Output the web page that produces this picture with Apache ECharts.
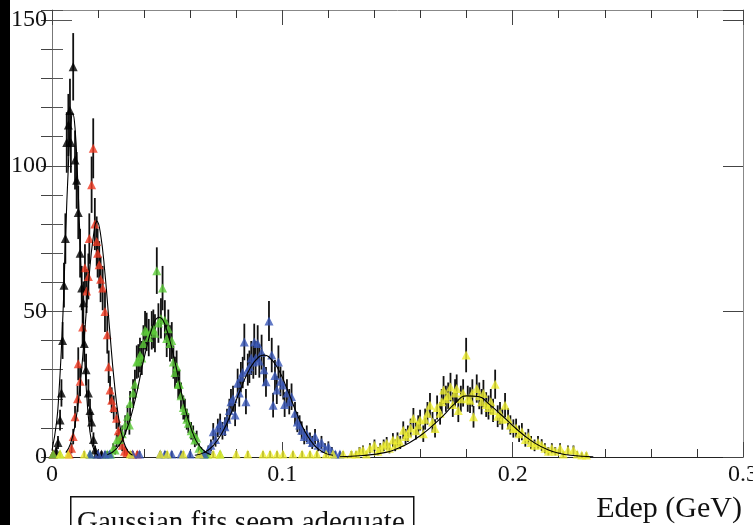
<!DOCTYPE html>
<html><head><meta charset="utf-8">
<script src="https://cdn.jsdelivr.net/npm/echarts@6/dist/echarts.min.js"></script>
<style>html,body{margin:0;padding:0;background:#fff;overflow:hidden}#c{width:753px;height:525px}</style>
</head><body><div id="c"></div>
<script>
// ---- tick labels ----
const xTickVals = [0, 0.1, 0.2, 0.3];
const xTickLabels = ['0', '0.1', '0.2', '0.3'];
const yTickVals = [0, 50, 100, 150];
const yTickLabels = ['0', '50', '100', '150'];
const xTitle = 'Edep (GeV)';
const noteText = 'Gaussian fits seem adequate';

// ---- histogram points [Edep, counts] ----
const blackPts = [
 [0.0005,1],[0.0018,2],[0.0026,5],[0.0035,12.7],[0.0041,22],[0.0046,40],[0.0052,59],[0.0058,75],
 [0.0064,108],[0.0071,114],[0.0078,119],[0.0082,108],[0.0092,134],[0.0100,102],[0.0107,95],
 [0.0114,84],[0.0122,70],[0.0129,58],[0.0136,53],[0.0140,39],[0.0148,30],[0.0158,22],[0.0165,16],
 [0.0172,12],[0.0180,6],[0.0187,2.4],[0.0195,1],[0.0215,1]
];
const redPts = [
 [0.0005,1],[0.0075,1],[0.0085,3],[0.0092,7],[0.0100,13.8],[0.0111,20],[0.0114,32],[0.0122,26],
 [0.0133,44.6],[0.0143,65],[0.0150,57],[0.0158,62],[0.0162,75],[0.0172,93.5],[0.0179,106],
 [0.0186,80],[0.0194,74],[0.0198,70],[0.0205,66],[0.0211,61],[0.0220,58],[0.0230,50],[0.0240,42],
 [0.0246,31],[0.0252,23],[0.0259,19.5],[0.0268,17],[0.0280,13.3],[0.0288,9],[0.0295,7],
 [0.0305,4],[0.0315,2],[0.0325,1.5],[0.0350,1],[0.0370,1]
];
const greenPts = [
 [0.0005,1],[0.0035,1],[0.0165,1],[0.0240,1],[0.0255,1],[0.0266,3],[0.0274,2.4],[0.0281,5.8],
 [0.0292,6],[0.0305,8],[0.0318,11],[0.0328,14],[0.0336,11],[0.0339,18.4],[0.0352,22],[0.0360,25],
 [0.0368,32.6],[0.0375,33],[0.0382,35],[0.0390,34],[0.0397,39],[0.0404,43.5],[0.0411,43],
 [0.0420,41],[0.0433,43.5],[0.0440,44],[0.0447,42.5],[0.0455,64],[0.0462,46],[0.0473,47.6],
 [0.0480,58],[0.0490,47],[0.0498,40.7],[0.0505,44],[0.0512,39],[0.0520,40],[0.0527,32.6],
 [0.0534,29],[0.0541,31],[0.0548,25],[0.0553,25],[0.0560,21],[0.0570,17],[0.0577,16],[0.0585,13],
 [0.0592,11.6],[0.0604,9],[0.0613,8],[0.0620,5.8],[0.0628,6.5],[0.0638,3],[0.0648,2],[0.0660,1],
 [0.0675,1],[0.0730,1]
];
const bluePts = [
 [0.0165,1],[0.0200,1],[0.0230,1],[0.0250,1],[0.0350,1],[0.0380,1],[0.0470,1],[0.0490,1],
 [0.0520,1],[0.0560,1],[0.0600,1],[0.0640,1],[0.0660,1],[0.0679,2.4],[0.0690,4],[0.0700,8.7],
 [0.0710,6],[0.0720,10],[0.0730,11.5],[0.0740,9],[0.0751,10.4],[0.0760,13],[0.0770,16],
 [0.0777,19],[0.0786,20],[0.0795,14.4],[0.0806,25.3],[0.0813,22],[0.0820,27.4],[0.0828,29],
 [0.0835,39.5],[0.0842,19],[0.0850,30],[0.0857,31],[0.0865,34],[0.0874,32.6],[0.0878,39.5],
 [0.0884,34],[0.0893,39],[0.0900,33],[0.0910,36],[0.0920,30],[0.0929,25.8],[0.0942,46.7],
 [0.0954,35],[0.0960,17.8],[0.0968,28],[0.0976,23],[0.0983,32.6],[0.0992,26],[0.1004,24.7],
 [0.1010,18],[0.1020,22],[0.1030,19],[0.1040,20.7],[0.1055,15],[0.1065,12],[0.1075,11],
 [0.1084,9.2],[0.1095,7],[0.1106,8],[0.1120,6],[0.1130,5],[0.1142,7],[0.1155,4],[0.1170,5],
 [0.1185,3],[0.1200,3.5],[0.1215,2],[0.1230,1],[0.1250,1]
];
const yellowPts = [
 [0.0035,1],[0.0070,1],[0.0140,1],[0.0340,1],[0.0470,1],[0.0500,1],[0.0570,1],[0.0640,1],
 [0.0700,1],[0.0730,1],[0.0800,1],[0.0850,1],[0.0916,1],[0.0947,1],[0.0977,1],[0.1003,1],
 [0.1046,1],[0.1086,1],[0.1120,1],[0.1150,1],[0.1190,1],[0.1220,1],[0.1264,1],
 [0.1300,1],[0.1320,1],[0.1335,2],[0.1350,2.4],[0.1365,1],[0.1380,3],[0.1400,4],[0.1415,2],
 [0.1425,3],[0.1440,4],[0.1453,4.7],[0.1465,3],[0.1480,5.8],[0.1490,4],[0.1500,6],[0.1512,5],
 [0.1525,9.2],[0.1535,7],[0.1545,8],[0.1557,10],[0.1569,13.2],[0.1580,9],[0.1590,11],
 [0.1598,12.7],[0.1612,8],[0.1620,13],[0.1630,15],[0.1641,17.8],[0.1652,12],[0.1663,9.8],
 [0.1672,17],[0.1685,15],[0.1692,19],[0.1700,23],[0.1710,20],[0.1720,21],[0.1730,24],
 [0.1740,18],[0.1750,22],[0.1757,23.5],[0.1764,16],[0.1775,20],[0.1785,22],[0.1798,35],
 [0.1805,20],[0.1815,19.5],[0.1825,22],[0.1830,13.8],[0.1844,23.5],[0.1855,21],[0.1865,19],
 [0.1873,21.8],[0.1885,18],[0.1895,17],[0.1905,19],[0.1915,16],[0.1924,25],[0.1935,14],
 [0.1945,15],[0.1955,13],[0.1967,17.8],[0.1980,13.2],[0.1990,11],[0.2003,9.8],[0.2015,10],
 [0.2028,8],[0.2040,8.7],[0.2055,6],[0.2068,7],[0.2080,5],[0.2095,4],[0.2110,5],[0.2126,4.1],
 [0.2140,3],[0.2155,2],[0.2170,3],[0.2185,2],[0.2206,3],[0.2220,1],[0.2240,2.4],[0.2264,2.4],
 [0.2280,1],[0.2300,0.7],[0.2320,0.7]
];

// ---- fit curves [Edep, counts] ----
const blackFit = [
 [0.000,2.2],[0.002,12],[0.003,22],[0.004,36],[0.005,54],[0.006,78],[0.007,98],[0.008,113],
 [0.009,118],[0.010,113],[0.011,98],[0.012,78],[0.013,56],[0.014,37],[0.015,22],[0.016,12],
 [0.017,6],[0.018,3],[0.020,0.5]
];
const redFit = [
 [0.006,1.5],[0.008,4.5],[0.010,11],[0.012,23],[0.014,41],[0.016,61],[0.018,76],[0.0195,81],
 [0.021,77],[0.023,63],[0.025,44],[0.027,26],[0.029,13],[0.031,5.5],[0.033,2],[0.035,0.6]
];
const greenFit = [
 [0.024,0.8],[0.028,2.9],[0.032,8.5],[0.036,19.3],[0.040,34],[0.044,45.6],[0.0465,48],
 [0.049,45.6],[0.053,34],[0.057,19.3],[0.061,8.5],[0.065,2.9],[0.069,0.8]
];
const blueFit = [
 [0.062,0.6],[0.066,1.5],[0.070,3.9],[0.074,8.5],[0.078,15.5],[0.082,23.5],[0.086,30.5],
 [0.090,34.5],[0.092,35],[0.094,34.5],[0.098,30.5],[0.102,23.5],[0.106,15.5],[0.110,8.5],
 [0.114,3.9],[0.118,1.5],[0.122,0.6]
];
const yellowFit = [
 [0.125,0.1],[0.135,0.5],[0.145,1.6],[0.150,2.9],[0.155,4.8],[0.160,7.4],[0.165,10.6],
 [0.170,14.3],[0.175,18.4],[0.180,21],[0.185,20.8],[0.190,18],[0.195,14.5],[0.200,10.8],
 [0.205,7.4],[0.210,4.6],[0.215,2.6],[0.220,1.3],[0.225,0.6],[0.235,0.1]
];

const groups = [
 {pts: blackPts, fit: blackFit, color: '#000000'},
 {pts: redPts, fit: redFit, color: '#f03a22'},
 {pts: greenPts, fit: greenFit, color: '#5ccc3a'},
 {pts: bluePts, fit: blueFit, color: '#3a58b8'},
 {pts: yellowPts, fit: yellowFit, color: '#eeee30'}
];

const serifFont = '"Liberation Serif", "DejaVu Serif", serif';
const series = [];
groups.forEach((g, gi) => {
  series.push({
    type: 'custom', xAxisIndex: 0, yAxisIndex: 0, silent: true, animation: false, clip: true, z: 2,
    data: g.pts.map(p => [p[0], p[1], Math.sqrt(p[1])]),
    encode: {x: 0, y: 1},
    renderItem: (params, api) => {
      const x = api.value(0), y = api.value(1), e = api.value(2);
      const a = api.coord([x, y + e]);
      const b = api.coord([x, Math.max(0, y - e)]);
      return {type: 'line', shape: {x1: a[0], y1: a[1], x2: b[0], y2: b[1]},
              style: {stroke: '#111', lineWidth: 1.8}};
    }
  });
  series.push({
    type: 'scatter', xAxisIndex: 0, yAxisIndex: 0, data: g.pts, symbol: 'triangle', symbolSize: 9,
    itemStyle: {color: g.color}, animation: false, silent: true, z: 3 + gi * 0.01
  });
  series.push({
    type: 'line', xAxisIndex: 0, yAxisIndex: 0, data: g.fit, smooth: true, showSymbol: false,
    lineStyle: {color: '#000', width: 1.1}, animation: false, silent: true, z: 4
  });
});

const xMin = 0, xMax = 0.3, yMin = 0, yMax = 153.5;
function xLabel(v) { const i = xTickVals.findIndex(t => Math.abs(t - v) < 1e-6); return i < 0 ? '' : xTickLabels[i]; }
function yLabel(v) { const i = yTickVals.findIndex(t => Math.abs(t - v) < 1e-6); return i < 0 ? '' : yTickLabels[i]; }

const option = {
  backgroundColor: '#ffffff',
  animation: false,
  grid: {left: 52, right: 10, top: 10, bottom: 68, containLabel: false, outerBoundsMode: 'none'},
  xAxis: [
    {type: 'value', position: 'bottom', min: xMin, max: xMax, interval: 0.1,
     axisLine: {show: true, onZero: false, lineStyle: {color: '#222', width: 1.2}},
     axisTick: {show: true, inside: true, length: 15, lineStyle: {color: '#444'}},
     minorTick: {show: true, splitNumber: 5, length: 8, lineStyle: {color: '#333'}},
     splitLine: {show: false},
     axisLabel: {show: true, margin: 6, formatter: xLabel, fontFamily: serifFont, fontSize: 24, color: '#111'}},
    {type: 'value', position: 'top', min: xMin, max: xMax, interval: 0.1,
     axisLine: {show: true, onZero: false, lineStyle: {color: '#888', width: 1}},
     axisTick: {show: true, inside: true, length: 15, lineStyle: {color: '#444'}},
     minorTick: {show: true, splitNumber: 5, length: 8, lineStyle: {color: '#333'}},
     splitLine: {show: false}, axisLabel: {show: false}}
  ],
  yAxis: [
    {type: 'value', position: 'left', min: yMin, max: yMax, interval: 50,
     axisLine: {show: true, onZero: false, lineStyle: {color: '#777', width: 1}},
     axisTick: {show: true, inside: true, length: 20, lineStyle: {color: '#555'}},
     splitLine: {show: false},
     axisLabel: {show: true, margin: 5, showMaxLabel: false, formatter: yLabel, fontFamily: serifFont, fontSize: 24, color: '#111'}},
    {type: 'value', position: 'left', min: yMin, max: yMax, interval: 10,
     axisLine: {show: false},
     axisTick: {show: true, inside: true, length: 11, lineStyle: {color: '#555'}},
     splitLine: {show: false}, axisLabel: {show: false}},
    {type: 'value', position: 'right', min: yMin, max: yMax, interval: 50,
     axisLine: {show: true, onZero: false, lineStyle: {color: '#888', width: 1}},
     axisTick: {show: true, inside: true, length: 20, lineStyle: {color: '#444'}},
     splitLine: {show: false}, axisLabel: {show: false}},
    {type: 'value', position: 'right', min: yMin, max: yMax, interval: 10,
     axisLine: {show: false},
     axisTick: {show: true, inside: true, length: 11, lineStyle: {color: '#444'}},
     splitLine: {show: false}, axisLabel: {show: false}}
  ],
  graphic: [
    {type: 'rect', left: 0, top: 0, shape: {width: 10, height: 525}, style: {fill: '#000'}, silent: true},
    {type: 'text', right: 11, top: 494, style: {text: xTitle, font: '30px ' + serifFont, fill: '#111'}, silent: true},
    {type: 'rect', left: 70, top: 496, shape: {width: 343, height: 60}, style: {fill: '#fff', stroke: '#111', lineWidth: 1.5}, silent: true},
    {type: 'text', left: 77, top: 509, style: {text: noteText, font: '29px ' + serifFont, fill: '#111'}, silent: true}
  ],
  series: series
};
const chart = echarts.init(document.getElementById('c'), null, {renderer: 'canvas'});
chart.setOption(option);
</script>
</body></html>
